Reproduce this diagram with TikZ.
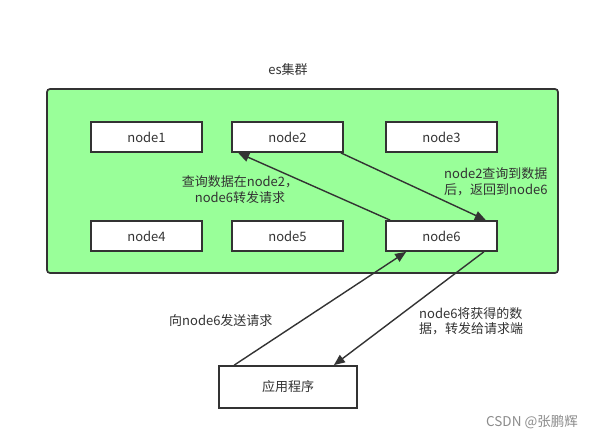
\documentclass[tikz,border=0pt]{standalone}
\usepackage{fontspec}
\setmainfont{Noto Sans CJK SC}
\usetikzlibrary{arrows.meta}
\definecolor{boxline}{HTML}{333333}
\definecolor{clustergreen}{HTML}{99FF99}
\begin{document}
\begin{tikzpicture}[x=1pt,y=-1pt,
  every node/.style={font=\fontsize{13}{15.5}\selectfont, text=boxline},
  nodebox/.style={draw=boxline, line width=1.7pt, fill=white, minimum width=111pt, minimum height=30pt, inner sep=0pt},
  cluster/.style={draw=boxline, line width=1.7pt, fill=clustergreen, rounded corners=3pt, minimum width=511pt, minimum height=184pt, inner sep=0pt},
  conn/.style={draw=boxline, line width=1.4pt, -{Triangle[length=11pt,width=9pt]}},
  lbl/.style={align=left, inner sep=0pt}
]
\useasboundingbox (0,0) rectangle (590,440);
\fill[white] (0,0) rectangle (590,440);
\node[cluster] (es) at (302.5,181) {};
\node (estitle) at (288,70) {es集群};
\node[nodebox] (n1) at (146.5,137) {node1};
\node[nodebox] (n2) at (287.5,137) {node2};
\node[nodebox] (n3) at (441.5,137) {node3};
\node[nodebox] (n4) at (146.5,236) {node4};
\node[nodebox] (n5) at (287.5,236) {node5};
\node[nodebox] (n6) at (441.5,236) {node6};
\node[nodebox, minimum width=138pt, minimum height=42pt] (app) at (288,387) {应用程序};
% connectors
\coordinate (n6tl) at ([xshift=5pt]n6.north west);
\coordinate (n2bl) at ([xshift=7pt]n2.south west);
\coordinate (n2br) at ([xshift=-3pt]n2.south east);
\coordinate (n6tr) at ([xshift=-12pt]n6.north east);
\coordinate (apptl) at ([xshift=16pt]app.north west);
\coordinate (n6bl) at ([xshift=21pt]n6.south west);
\coordinate (n6br) at ([xshift=-14pt]n6.south east);
\coordinate (apptr) at ([xshift=-24pt]app.north east);
\draw[conn] (n6tl) -- (n2bl);
\draw[conn] (n2br) -- (n6tr);
\draw[conn] (apptl) -- (n6bl);
\draw[conn] (n6br) -- (apptr);
% labels
\node[align=center, inner sep=0pt] (l1) at (240,189.5) {查询数据在node2，\\node6转发请求};
\node[lbl, anchor=west] (l2) at (444,181.5) {node2查询到数据\\后，返回到node6};
\node[lbl, anchor=west] (l3) at (169,321) {向node6发送请求};
\node[lbl, anchor=west] (l4) at (419,321) {node6将获得的数\\据，转发给请求端};
\node[anchor=east, text=black!45, font=\fontsize{13.5}{15}\selectfont, inner sep=0pt] (wm) at (578,422) {CSDN @张鹏辉};
\end{tikzpicture}
\end{document}
